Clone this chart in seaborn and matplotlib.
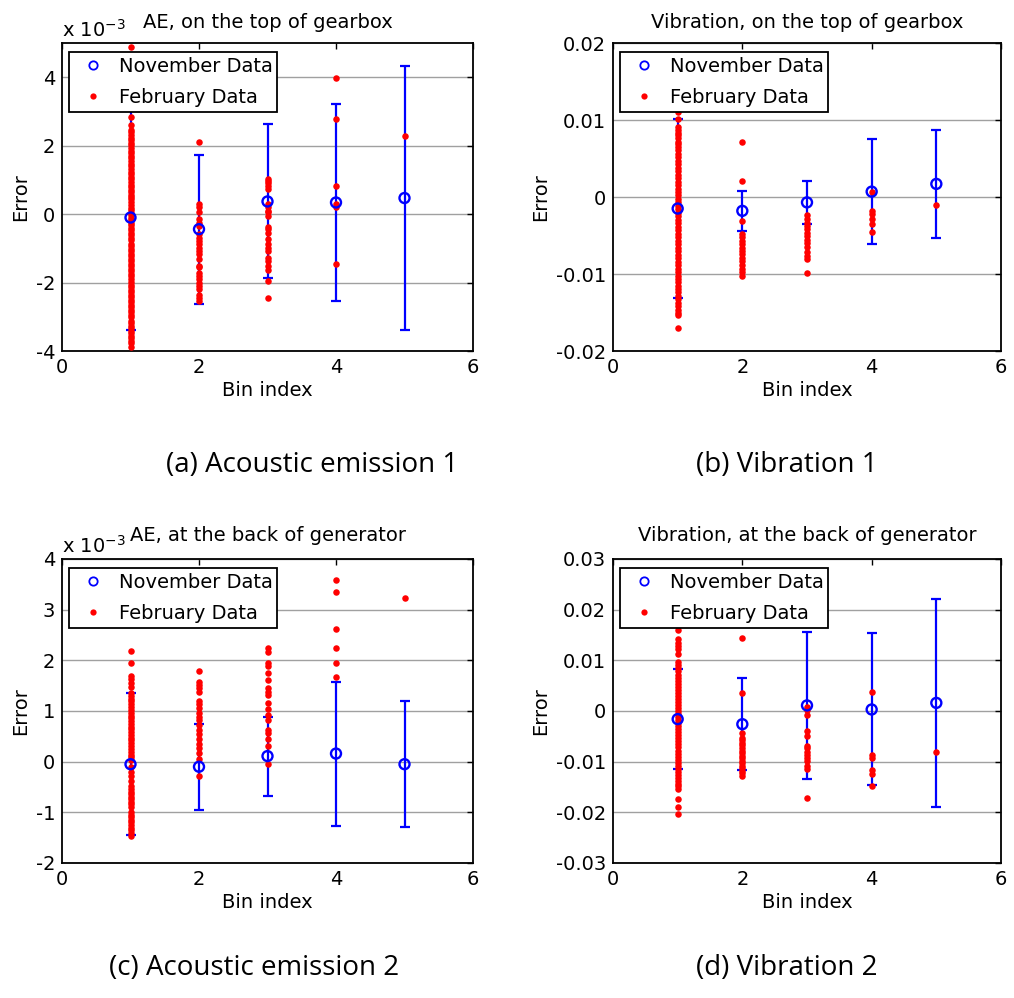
import numpy as np
import pandas as pd
import matplotlib
matplotlib.use("Agg")
import matplotlib.pyplot as plt
import seaborn as sns
from matplotlib.ticker import FuncFormatter, FixedLocator
from matplotlib.lines import Line2D

# ---------------- data ----------------
bins = [1, 2, 3, 4, 5]

# (a) AE, on the top of gearbox  (values in units of 1e-3)
nov_mean_a = [-0.10, -0.44, 0.37, 0.34, 0.47]
nov_err_a = [3.28, 2.18, 2.25, 2.89, 3.87]
feb_a = [
    [4.88, 2.84, 2.60, 2.46, 2.39, 2.31, 2.22, 2.16, 2.07, 2.01, 1.93, 1.84, 1.78, 1.69, 1.63,
     1.55, 1.46, 1.41, 1.33, 1.24, 1.18, 1.09, 1.03, 0.95, 0.86, 0.80, 0.71, 0.66, 0.57, 0.49,
     0.43, 0.34, 0.28, 0.19, 0.13, 0.04, -0.02, -0.11, -0.17, -0.26, -0.32, -0.41, -0.47, -0.56,
     -0.62, -0.71, -0.77, -0.86, -0.92, -1.01, -1.07, -1.16, -1.22, -1.31, -1.37, -1.46, -1.52,
     -1.61, -1.67, -1.76, -1.82, -1.91, -1.97, -2.06, -2.12, -2.21, -2.27, -2.36, -2.42, -2.51,
     -2.57, -2.66, -2.72, -2.81, -2.87, -2.96, -3.02, -3.11, -3.17, -3.26, -3.32, -3.41, -3.47,
     -3.56, -3.63, -3.71, -3.78, -3.87],
    [2.10, 0.29, 0.20, 0.05, -0.15, -0.25, -0.34, -0.59, -0.69, -0.78, -0.88, -0.98, -1.08,
     -1.18, -1.32, -1.52, -1.56, -1.72, -1.81, -1.91, -2.01, -2.11, -2.20, -2.35, -2.45, -2.55],
    [1.03, 0.96, 0.90, 0.83, 0.74, 0.29, 0.20, 0.10, 0.05, -0.05, -0.39, -0.44, -0.54, -0.74,
     -0.88, -0.98, -1.08, -1.27, -1.37, -1.52, -1.62, -1.96, -2.45],
    [3.97, 2.79, 0.83, 0.29, 0.20, -1.45],
    [2.27],
]

# (b) Vibration, on the top of gearbox
nov_mean_b = [-0.0015, -0.0018, -0.0007, 0.0007, 0.0017]
nov_err_b = [0.0116, 0.0026, 0.0028, 0.0068, 0.0070]
feb_b = [
    [0.0111, 0.0101, 0.0091, 0.0087, 0.0083, 0.0080, 0.0076, 0.0072, 0.0069, 0.0065, 0.0061,
     0.0056, 0.0052, 0.0047, 0.0043, 0.0038, 0.0034, 0.0029, 0.0025, 0.0020, 0.0016, 0.0011,
     0.0007, 0.0002, -0.0003, -0.0007, -0.0012, -0.0016, -0.0021, -0.0025, -0.0030, -0.0034,
     -0.0039, -0.0043, -0.0048, -0.0052, -0.0057, -0.0061, -0.0066, -0.0070, -0.0075, -0.0079,
     -0.0084, -0.0088, -0.0093, -0.0097, -0.0102, -0.0106, -0.0111, -0.0115, -0.0120, -0.0124,
     -0.0129, -0.0133, -0.0138, -0.0142, -0.0147, -0.0150, -0.0153, -0.0170],
    [0.0072, 0.0021, -0.0031, -0.0048, -0.0052, -0.0057, -0.0061, -0.0066, -0.0070, -0.0074,
     -0.0079, -0.0083, -0.0088, -0.0093, -0.0098, -0.0103],
    [-0.0024, -0.0029, -0.0034, -0.0038, -0.0042, -0.0047, -0.0051, -0.0056, -0.0060, -0.0065,
     -0.0071, -0.0076, -0.0081, -0.0099],
    [0.0006, -0.0018, -0.0022, -0.0029, -0.0035, -0.0046],
    [-0.0010],
]

# (c) AE, at the back of generator  (values in units of 1e-3)
nov_mean_c = [-0.05, -0.10, 0.11, 0.16, -0.05]
nov_err_c = [1.40, 0.85, 0.78, 1.42, 1.24]
feb_c = [
    [2.18, 1.95, 1.69, 1.63, 1.56, 1.48, 1.35, 1.30, 1.24, 1.19, 1.13, 1.08, 1.02, 0.97, 0.91,
     0.86, 0.80, 0.75, 0.69, 0.64, 0.58, 0.53, 0.47, 0.42, 0.36, 0.31, 0.25, 0.20, 0.14, 0.09,
     0.04, -0.11, -0.21, -0.28, -0.38, -0.48, -0.54, -0.59, -0.64, -0.69, -0.74, -0.79, -0.84,
     -0.89, -1.00, -1.05, -1.10, -1.15, -1.20, -1.25, -1.30, -1.35, -1.40, -1.46],
    [1.78, 1.58, 1.52, 1.45, 1.38, 1.19, 1.13, 1.06, 0.96, 0.89, 0.83, 0.73, 0.63, 0.54, 0.44,
     0.34, 0.27, 0.18, 0.05, -0.28],
    [2.25, 2.17, 1.94, 1.88, 1.75, 1.61, 1.45, 1.38, 1.32, 1.16, 1.03, 0.93, 0.83, 0.63, 0.57,
     0.44, 0.31, -0.05],
    [3.58, 3.35, 2.61, 2.24, 1.94, 1.68],
    [3.24],
]

# (d) Vibration, at the back of generator
nov_mean_d = [-0.0016, -0.0026, 0.0011, 0.0003, 0.0016]
nov_err_d = [0.0099, 0.0091, 0.0145, 0.0150, 0.0206]
feb_d = [
    [0.0159, 0.0142, 0.0135, 0.0129, 0.0122, 0.0112, 0.0096, 0.0090, 0.0084, 0.0078, 0.0072,
     0.0066, 0.0060, 0.0054, 0.0048, 0.0042, 0.0036, 0.0030, 0.0024, 0.0018, 0.0012, 0.0006,
     0.0000, -0.0006, -0.0012, -0.0018, -0.0024, -0.0030, -0.0036, -0.0042, -0.0048, -0.0054,
     -0.0060, -0.0066, -0.0072, -0.0078, -0.0084, -0.0090, -0.0096, -0.0102, -0.0108, -0.0114,
     -0.0120, -0.0126, -0.0132, -0.0138, -0.0144, -0.0149, -0.0154, -0.0173, -0.0190, -0.0203],
    [0.0145, 0.0036, -0.0044, -0.0053, -0.0058, -0.0063, -0.0068, -0.0073, -0.0078, -0.0083,
     -0.0088, -0.0093, -0.0098, -0.0103, -0.0108, -0.0113, -0.0118, -0.0123, -0.0128],
    [0.0008, 0.0002, -0.0008, -0.0040, -0.0050, -0.0069, -0.0074, -0.0080, -0.0086, -0.0092,
     -0.0098, -0.0108, -0.0115, -0.0171],
    [0.0038, -0.0086, -0.0092, -0.0116, -0.0125, -0.0149],
    [-0.0080],
]

titles = ["AE, on the top of gearbox", "Vibration, on the top of gearbox",
          "AE, at the back of generator", "Vibration, at the back of generator"]
captions = ["(a) Acoustic emission 1", "(b) Vibration 1",
            "(c) Acoustic emission 2", "(d) Vibration 2"]
legend_labels = ["November Data", "February Data"]
xticks = [0, 2, 4, 6]

# ---------------- style / layout ----------------
sns.set_style("white")
plt.rcParams["font.family"] = ["DejaVu Sans"]
plt.rcParams["axes.unicode_minus"] = False
plt.rcParams["text.color"] = "black"
plt.rcParams["axes.labelcolor"] = "black"
plt.rcParams["xtick.color"] = "black"
plt.rcParams["ytick.color"] = "black"

W, H = 1014, 998
fig = plt.figure(figsize=(W / 100, H / 100), dpi=100)

panels = [
    dict(box=(62, 43, 473, 351), mean=nov_mean_a, err=nov_err_a, feb=feb_a, ylim=(-4, 5),
         yticks=[-4, -2, 0, 2, 4], exp=True, tpad=15, cap=(312, 465)),
    dict(box=(613, 43, 1001, 351), mean=nov_mean_b, err=nov_err_b, feb=feb_b, ylim=(-0.02, 0.02),
         yticks=[-0.02, -0.01, 0, 0.01, 0.02], exp=False, tpad=15, cap=(787, 465)),
    dict(box=(62, 559, 473, 863), mean=nov_mean_c, err=nov_err_c, feb=feb_c, ylim=(-2, 4),
         yticks=[-2, -1, 0, 1, 2, 3, 4], exp=True, tpad=18, cap=(254, 968)),
    dict(box=(613, 559, 1001, 863), mean=nov_mean_d, err=nov_err_d, feb=feb_d, ylim=(-0.03, 0.03),
         yticks=[-0.03, -0.02, -0.01, 0, 0.01, 0.02, 0.03], exp=False, tpad=18, cap=(787, 968)),
]

fmt = FuncFormatter(lambda v, p: f"{round(v, 6):g}")

for i, P in enumerate(panels):
    l, t, r, b = P["box"]
    ax = fig.add_axes([l / W, 1 - b / H, (r - l) / W, (b - t) / H])

    # November: mean +/- error bars
    ax.errorbar(bins, P["mean"], yerr=P["err"], fmt="none", ecolor="#0000ff",
                elinewidth=1.6, capsize=3.5, capthick=1.6, zorder=2)

    # February: individual points
    rows = [(bins[k], v) for k in range(len(bins)) for v in P["feb"][k]]
    df = pd.DataFrame(rows, columns=["bin", "value"])
    sns.scatterplot(data=df, x="bin", y="value", color="#ff0000", s=22, linewidth=0,
                    ax=ax, zorder=3, legend=False)

    # November means (open circles)
    dm = pd.DataFrame({"bin": bins, "mean": P["mean"]})
    sns.scatterplot(data=dm, x="bin", y="mean", marker="o", facecolor="none",
                    edgecolor="#0000ff", linewidth=1.7, s=52, ax=ax, zorder=4, legend=False)

    ax.set_xlim(0, 6)
    ax.set_ylim(*P["ylim"])
    ax.xaxis.set_major_locator(FixedLocator(xticks))
    ax.yaxis.set_major_locator(FixedLocator(P["yticks"]))
    ax.yaxis.set_major_formatter(fmt)
    ax.xaxis.set_major_formatter(fmt)
    ax.set_axisbelow(True)
    ax.yaxis.grid(True, color="#a0a0a0", linewidth=1.0)
    ax.xaxis.grid(False)
    for s in ax.spines.values():
        s.set_color("black")
        s.set_linewidth(1.3)
    ax.tick_params(direction="in", top=True, right=True, length=4, width=1,
                   labelsize=14, pad=5, colors="black")
    ax.set_xlabel("Bin index", fontsize=14, labelpad=3, color="black")
    ax.set_ylabel("Error", fontsize=14, labelpad=4, color="black")
    ax.set_title(titles[i], fontsize=14, pad=P["tpad"] * 0.72, color="black")

    if P["exp"]:
        ax.text(0, 1 + 6 / (b - t), r"x 10$^{-3}$", transform=ax.transAxes,
                fontsize=14, ha="left", va="baseline", color="black")

    handles = [
        Line2D([], [], linestyle="none", marker="o", markerfacecolor="none",
               markeredgecolor="#0000ff", markeredgewidth=1.3, markersize=6),
        Line2D([], [], linestyle="none", marker="o", markerfacecolor="#ff0000",
               markeredgecolor="none", markersize=4.5),
    ]
    leg = ax.legend(handles, legend_labels, loc="upper left",
                    bbox_to_anchor=(7 / (r - l), 1 - 9 / (b - t)), borderaxespad=0,
                    fontsize=14, frameon=True, fancybox=False, framealpha=1,
                    edgecolor="black", borderpad=0.25, labelspacing=0.62,
                    handlelength=2.0, handletextpad=0.3)
    leg.get_frame().set_linewidth(1.3)
    for txt in leg.get_texts():
        txt.set_color("black")
    leg.set_zorder(10)

    cx, cy = P["cap"]
    fig.text(cx / W, 1 - cy / H, captions[i], fontsize=20, family=["Open Sans", "DejaVu Sans"],
             ha="center", va="center", color="black")

fig.savefig("out.png", dpi=100)
